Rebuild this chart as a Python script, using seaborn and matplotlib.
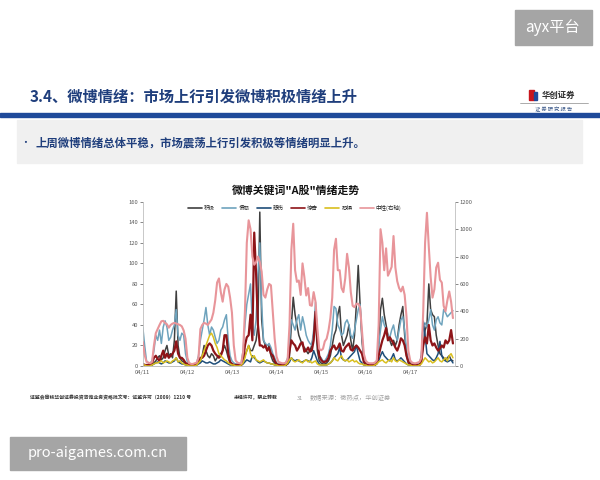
import numpy as np
import pandas as pd
import matplotlib.pyplot as plt
import seaborn as sns
from matplotlib.patches import Rectangle
from matplotlib.lines import Line2D

# 小时级数据，04/11 00:00 起，共 7 天
dates = ['04/11', '04/12', '04/13', '04/14', '04/15', '04/16', '04/17']

positive = [2, 1, 0, 0, 0, 1, 3, 5, 8, 10, 6, 8, 15, 20, 10, 12, 8, 25, 73, 20, 8, 5, 4, 2,
            1, 1, 1, 1, 1, 1, 3, 5, 10, 20, 15, 10, 8, 12, 10, 5, 8, 10, 12, 15, 20, 15, 8, 3,
            2, 1, 1, 1, 1, 1, 3, 10, 15, 20, 15, 15, 20, 25, 40, 150, 45, 25, 20, 15, 20, 10, 5, 3,
            1, 1, 1, 1, 1, 1, 2, 10, 40, 67, 50, 40, 30, 25, 20, 18, 15, 12, 15, 20, 30, 45, 15, 5,
            3, 2, 2, 3, 5, 10, 20, 30, 35, 50, 58, 30, 20, 25, 30, 40, 25, 15, 30, 60, 98, 60, 25, 5,
            1, 1, 1, 1, 1, 1, 3, 20, 55, 66, 50, 40, 30, 25, 20, 25, 20, 25, 40, 50, 58, 30, 10, 3,
            1, 1, 1, 1, 1, 1, 5, 20, 35, 40, 80, 55, 50, 48, 30, 20, 12, 10, 8, 6, 8, 10, 6, 5]

anger = [38, 20, 5, 3, 3, 5, 15, 30, 25, 35, 22, 38, 44, 38, 25, 28, 35, 40, 55, 30, 25, 32, 30, 12,
         4, 3, 2, 2, 2, 3, 10, 25, 35, 45, 57, 40, 30, 38, 35, 28, 22, 25, 35, 38, 45, 50, 25, 10,
         5, 3, 2, 2, 2, 3, 15, 40, 60, 70, 80, 40, 30, 45, 90, 120, 60, 25, 22, 20, 22, 18, 12, 8,
         3, 2, 2, 2, 2, 3, 8, 25, 45, 40, 35, 45, 50, 35, 48, 40, 30, 25, 22, 20, 35, 62, 30, 10,
         8, 5, 5, 8, 12, 20, 35, 58, 56, 40, 36, 30, 32, 42, 45, 40, 30, 27, 35, 45, 55, 60, 30, 10,
         4, 3, 2, 2, 2, 3, 5, 20, 35, 48, 40, 36, 30, 28, 35, 40, 30, 25, 35, 45, 48, 35, 15, 6,
         4, 3, 2, 2, 2, 3, 10, 40, 42, 38, 45, 55, 40, 35, 45, 48, 42, 40, 55, 52, 48, 50, 52, 54]

sad = [1, 1, 0, 0, 0, 1, 2, 3, 4, 3, 2, 3, 5, 4, 3, 3, 4, 5, 8, 4, 3, 2, 2, 1,
       1, 0, 0, 0, 0, 1, 2, 3, 5, 4, 3, 3, 4, 3, 2, 2, 3, 4, 6, 5, 4, 3, 2, 1,
       1, 0, 0, 0, 0, 1, 2, 4, 6, 5, 4, 10, 8, 6, 4, 3, 4, 5, 4, 3, 3, 2, 2, 1,
       1, 0, 0, 0, 0, 1, 2, 4, 8, 6, 5, 6, 5, 4, 4, 5, 6, 5, 4, 8, 15, 10, 5, 2,
       1, 1, 1, 1, 2, 3, 5, 8, 10, 12, 18, 8, 6, 5, 6, 8, 10, 12, 14, 20, 12, 5, 3, 1,
       1, 0, 0, 0, 0, 1, 2, 5, 10, 14, 10, 8, 6, 5, 8, 12, 6, 5, 6, 8, 6, 4, 2, 1,
       1, 0, 0, 0, 0, 1, 8, 44, 30, 12, 10, 8, 6, 5, 8, 12, 24, 10, 6, 5, 4, 5, 6, 3]

surprise = [2, 1, 1, 1, 2, 3, 8, 10, 7, 5, 10, 15, 8, 12, 8, 10, 12, 15, 24, 12, 8, 8, 6, 3,
            2, 1, 1, 1, 1, 2, 5, 8, 8, 10, 15, 20, 22, 20, 15, 12, 10, 8, 10, 15, 30, 30, 12, 4,
            2, 1, 1, 1, 1, 1, 5, 20, 28, 30, 50, 25, 130, 90, 40, 20, 20, 18, 20, 15, 18, 12, 10, 5,
            2, 1, 1, 1, 1, 1, 3, 15, 25, 22, 20, 15, 18, 22, 23, 14, 15, 18, 14, 15, 25, 53, 25, 10,
            6, 4, 4, 5, 8, 15, 18, 20, 16, 18, 22, 15, 14, 18, 20, 22, 16, 15, 18, 20, 18, 15, 12, 4,
            2, 1, 1, 1, 1, 1, 3, 10, 18, 25, 30, 37, 25, 28, 25, 22, 18, 15, 20, 27, 25, 20, 10, 4,
            2, 1, 1, 1, 1, 1, 5, 20, 28, 22, 40, 25, 20, 22, 18, 15, 17, 20, 18, 25, 22, 25, 35, 22]

fear = [1, 1, 0, 0, 0, 1, 2, 3, 3, 4, 5, 3, 4, 5, 4, 3, 5, 6, 8, 4, 5, 3, 2, 1,
        1, 0, 0, 0, 0, 1, 3, 5, 10, 15, 20, 25, 30, 32, 28, 22, 18, 12, 10, 8, 6, 5, 3, 2,
        1, 1, 0, 0, 0, 1, 3, 8, 15, 20, 12, 8, 10, 6, 5, 4, 5, 6, 4, 3, 3, 2, 2, 1,
        1, 0, 0, 0, 0, 1, 3, 6, 8, 5, 4, 5, 6, 4, 3, 5, 6, 4, 5, 3, 4, 5, 2, 1,
        1, 1, 1, 1, 2, 3, 5, 8, 6, 5, 8, 10, 6, 5, 6, 4, 5, 6, 4, 5, 3, 2, 2, 1,
        1, 0, 0, 0, 0, 1, 2, 4, 5, 6, 4, 3, 5, 6, 4, 8, 5, 4, 6, 5, 4, 3, 2, 1,
        1, 0, 0, 0, 0, 1, 2, 5, 8, 6, 4, 5, 3, 4, 6, 8, 5, 4, 6, 8, 5, 10, 12, 8]

neutral = [175, 80, 30, 25, 20, 30, 150, 240, 270, 300, 327, 330, 315, 305, 280, 300, 310, 315, 310, 305, 300, 290, 260, 200,
           60, 20, 15, 15, 20, 25, 60, 270, 300, 315, 310, 300, 320, 340, 390, 480, 610, 640, 540, 470, 560, 600, 580, 500,
           390, 150, 40, 25, 20, 20, 100, 400, 900, 1065, 1000, 800, 740, 760, 800, 760, 690, 520, 500, 560, 600, 590, 400, 200,
           70, 30, 25, 20, 20, 25, 50, 300, 850, 1040, 700, 615, 625, 520, 750, 650, 515, 570, 445, 440, 540, 470, 275, 125,
           115, 125, 180, 200, 260, 350, 500, 850, 930, 700, 700, 570, 540, 640, 820, 720, 540, 440, 430, 455, 455, 430, 260, 90,
           40, 25, 20, 20, 20, 25, 40, 300, 1000, 900, 700, 860, 660, 690, 725, 950, 720, 620, 570, 545, 580, 520, 360, 110,
           40, 25, 20, 20, 25, 30, 60, 400, 900, 1120, 870, 650, 500, 560, 720, 755, 630, 610, 440, 400, 480, 545, 470, 350]

left_names = ['积极', '愤怒', '悲伤', '惊奇', '恐惧']
right_name = '中性(右轴)'

colors = {
    '积极': '#3f3f3f',
    '愤怒': '#6ea3bd',
    '悲伤': '#1f4e79',
    '惊奇': '#8e1418',
    '恐惧': '#d9bf1e',
    '中性(右轴)': '#e8959a',
}
widths = {'积极': 1.1, '愤怒': 1.1, '悲伤': 1.1, '惊奇': 1.6, '恐惧': 1.1, '中性(右轴)': 1.5}

hours = np.arange(len(positive))
df = pd.DataFrame({'hour': hours, '积极': positive, '愤怒': anger, '悲伤': sad,
                   '惊奇': surprise, '恐惧': fear, '中性(右轴)': neutral})

sns.set_style("white")
plt.rcParams['font.family'] = ['Noto Sans CJK SC', 'DejaVu Sans']

fig = plt.figure(figsize=(6, 4.8), dpi=100)
fig.patch.set_facecolor('white')

# 幻灯片装饰
fig.patches.append(Rectangle((515 / 600, 1 - 45 / 480), 77 / 600, 35 / 480,
                             transform=fig.transFigure, color='#a5a5a5', zorder=1))
fig.text(553 / 600, 1 - 27 / 480, 'ayx平台', color='white', fontsize=11,
         ha='center', va='center')

fig.text(30 / 600, 1 - 97 / 480, '3.4、微博情绪：市场上行引发微博积极情绪上升',
         fontsize=11, weight='bold', color='#1f3e7c', va='center')

# logo
fig.patches.append(Rectangle((529 / 600, 1 - 100 / 480), 5 / 600, 10 / 480,
                             transform=fig.transFigure, color='#c8161d'))
fig.patches.append(Rectangle((534 / 600, 1 - 100 / 480), 3 / 600, 8 / 480,
                             transform=fig.transFigure, color='#1f4a9a'))
fig.text(542 / 600, 1 - 95 / 480, '华创证券', fontsize=6, weight='bold',
         color='#2b2b2b', va='center')
fig.add_artist(Line2D([520 / 600, 588 / 600], [1 - 103 / 480, 1 - 103 / 480],
                      color='#8a8a8a', lw=0.5, transform=fig.transFigure))
fig.text(554 / 600, 1 - 109 / 480, '证 券 研 究 报 告', fontsize=3.8,
         color='#3d5a8a', ha='center', va='center')

fig.patches.append(Rectangle((0, 1 - 117 / 480), 1, 4 / 480,
                             transform=fig.transFigure, color='#1f4a9a'))
fig.patches.append(Rectangle((17 / 600, 1 - 163 / 480), 565 / 600, 43 / 480,
                             transform=fig.transFigure, color='#f0f0f0'))
fig.text(20 / 600, 1 - 143 / 480, '•', fontsize=7, color='#1f3e7c', va='center')
fig.text(36 / 600, 1 - 143 / 480, '上周微博情绪总体平稳，市场震荡上行引发积极等情绪明显上升。',
         fontsize=8.2, weight='bold', color='#1f3e7c', va='center')

fig.text(296 / 600, 1 - 190 / 480, '微博关键词"A股"情绪走势', fontsize=7.8,
         weight='bold', color='#111111', ha='center', va='center')

# 图表
ax = fig.add_axes([0.238, 0.2375, 0.52, 0.342])
for name in left_names:
    sns.lineplot(data=df, x='hour', y=name, ax=ax, color=colors[name],
                 linewidth=widths[name], legend=False)
ax2 = ax.twinx()
sns.lineplot(data=df, x='hour', y=right_name, ax=ax2, color=colors[right_name],
             linewidth=widths[right_name], legend=False)

ax.set_xlim(0, len(positive))
ax.set_ylim(0, 160)
ax2.set_ylim(0, 1200)
ax.set_yticks(range(0, 161, 20))
ax2.set_yticks(range(0, 1201, 200))
ax.set_xticks(np.arange(len(dates)) * 24)
ax.set_xticklabels(dates)
ax.set_xlabel('')
ax.set_ylabel('')
ax2.set_ylabel('')

for a in (ax, ax2):
    a.tick_params(labelsize=4.2, colors='#595959', length=2, width=0.5, pad=1.5)
    a.spines['top'].set_visible(False)
    for s in ('left', 'right', 'bottom'):
        a.spines[s].set_color('#bfbfbf')
        a.spines[s].set_linewidth(0.6)
ax.tick_params(axis='x', length=0, pad=3)
ax.spines['right'].set_visible(False)
ax2.spines['left'].set_visible(False)

handles = [Line2D([0], [0], color=colors[n], lw=1.2) for n in left_names + [right_name]]
ax2.legend(handles, left_names + [right_name], loc='center', ncol=6,
           bbox_to_anchor=(0.487, 0.963), frameon=False, fontsize=4,
           handlelength=2.5, columnspacing=1.3, handletextpad=0.4)

# 页脚
fig.text(30 / 600, 1 - 398 / 480, '证监会审核华创证券投资咨询业务资格批文号：证监许可（2009）1210 号',
         fontsize=3.5, weight='bold', color='#333333', va='center')
fig.text(234 / 600, 1 - 398 / 480, '未经许可，禁止转载', fontsize=3.5,
         weight='bold', color='#333333', va='center')
fig.text(297 / 600, 1 - 398 / 480, '31', fontsize=4, color='#9a9a9a', va='center')
fig.text(310 / 600, 1 - 398 / 480, '数据来源：微热点，华创证券', fontsize=4.5,
         color='#a0a0a0', va='center')

fig.patches.append(Rectangle((10 / 600, 1 - 470 / 480), 176 / 600, 33 / 480,
                             transform=fig.transFigure, color='#a5a5a5'))
fig.text(98 / 600, 1 - 453 / 480, 'pro-aigames.com.cn', color='white', fontsize=10.5,
         ha='center', va='center')

plt.savefig('out.png', dpi=100)
plt.close()
